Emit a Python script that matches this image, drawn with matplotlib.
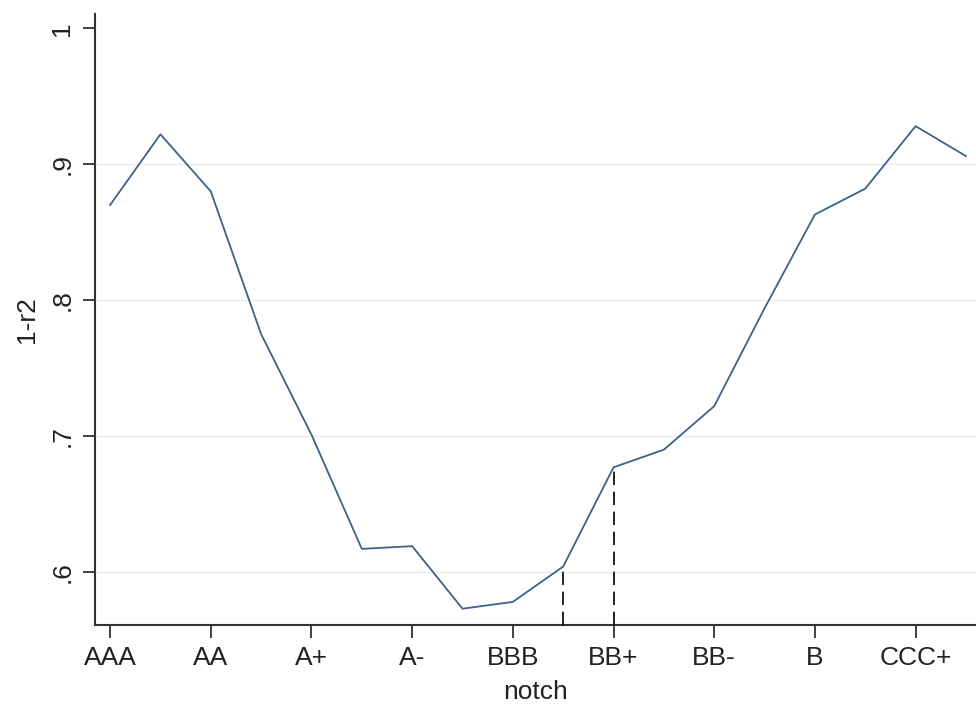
import matplotlib
matplotlib.use("Agg")
import matplotlib.pyplot as plt
import numpy as np

notches = ["AAA", "AA+", "AA", "AA-", "A+", "A", "A-", "BBB+", "BBB", "BBB-",
           "BB+", "BB", "BB-", "B+", "B", "B-", "CCC+", "CCC"]
one_minus_r2 = [0.870, 0.922, 0.880, 0.775, 0.701, 0.617, 0.619, 0.573, 0.578,
                0.604, 0.677, 0.690, 0.722, 0.794, 0.863, 0.882, 0.928, 0.906]
marked_notches = ["BBB-", "BB+"]
y_ticks = [0.6, 0.7, 0.8, 0.9, 1.0]
y_tick_labels = [".6", ".7", ".8", ".9", "1"]

plt.rcParams['font.family'] = ['Liberation Sans', 'DejaVu Sans']

fig = plt.figure(figsize=(9.76, 7.04), dpi=100)
ax = fig.add_axes([95/976, 79/704, 1 - 95/976, (625 - 14)/704])

x = np.arange(len(notches))
ax.plot(x, one_minus_r2, color="#3d618a", lw=1.3, zorder=3)

ymin = 0.561
for n in marked_notches:
    i = notches.index(n)
    ax.plot([i, i], [ymin, one_minus_r2[i]], color="black", lw=1.2,
            linestyle=(0, (8, 4)), zorder=3)

ax.set_xlim(-0.3, 17.2)
ax.set_ylim(ymin, 1.0105)

ax.set_yticks(y_ticks)
ax.set_yticklabels(y_tick_labels, rotation=90, va="center")
for yv in y_ticks[:-1]:
    ax.axhline(yv, color="#e6eef1", lw=1.0, zorder=1)

ax.set_xticks(x[::2])
ax.set_xticklabels(notches[::2])

ax.tick_params(axis="both", direction="out", length=9, width=1.3, color="#333333",
               labelsize=19, labelcolor="#222222", pad=6)
for s in ["top", "right"]:
    ax.spines[s].set_visible(False)
for s in ["left", "bottom"]:
    ax.spines[s].set_color("#333333")
    ax.spines[s].set_linewidth(1.5)

ax.set_xlabel("notch", fontsize=19, color="#222222", labelpad=7)
ax.set_ylabel("1-r2", fontsize=19, color="#222222", labelpad=8)

fig.savefig("out.png", dpi=100)
